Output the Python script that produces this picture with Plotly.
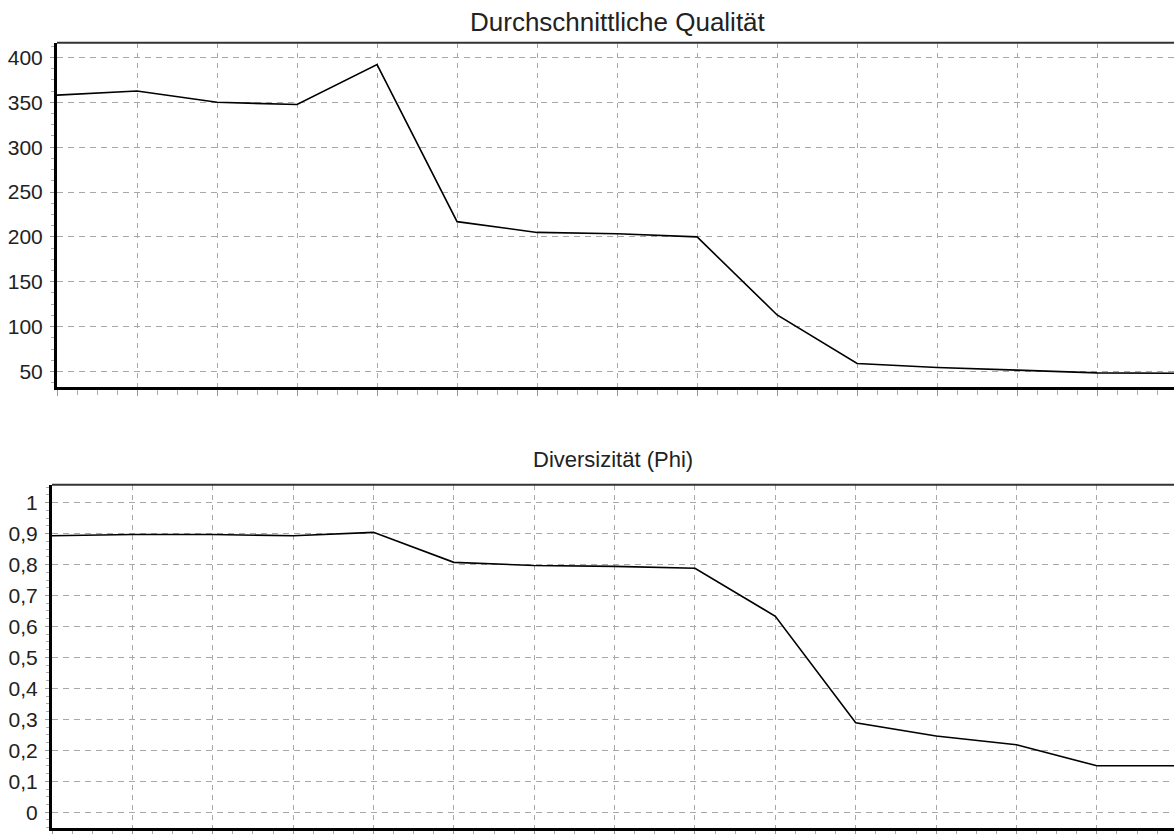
import plotly.graph_objects as go

# Data
generation = list(range(15))
qualitaet = [358, 362.5, 350, 347.5, 392, 217, 205, 203.5, 200, 113, 59, 54.5, 51.5, 48.5, 48]
diversitaet = [0.893, 0.897, 0.897, 0.893, 0.904, 0.807, 0.797, 0.794, 0.788, 0.633,
               0.289, 0.246, 0.218, 0.150, 0.150]
q_ticks = [50, 100, 150, 200, 250, 300, 350, 400]
d_ticks = [0, 0.1, 0.2, 0.3, 0.4, 0.5, 0.6, 0.7, 0.8, 0.9, 1]
titles = ["Durchschnittliche Qualität", "Diversizität (Phi)"]

W, H = 1174, 834
FONT = "Liberation Sans, Arial, sans-serif"
GRID = "#a8a8a8"

fig = go.Figure()
fig.add_trace(go.Scatter(x=generation, y=qualitaet, mode="lines",
                         line=dict(color="black", width=1.6), xaxis="x", yaxis="y",
                         showlegend=False, hoverinfo="x+y"))
fig.add_trace(go.Scatter(x=generation, y=diversitaet, mode="lines",
                         line=dict(color="black", width=1.6), xaxis="x2", yaxis="y2",
                         showlegend=False, hoverinfo="x+y"))

common_x = dict(showgrid=True, gridcolor=GRID, griddash="5px,5px", gridwidth=1,
                dtick=1, tick0=0, showticklabels=False, zeroline=False,
                showline=True, linecolor="black", linewidth=3,
                ticks="outside", ticklen=6, tickcolor="#999",
                minor=dict(dtick=0.25, ticks="outside", ticklen=5, tickcolor="#aaa", showgrid=False))
common_y = dict(showgrid=True, gridcolor=GRID, griddash="6px,5px", gridwidth=1,
                zeroline=False, showline=True, linecolor="black", linewidth=3,
                ticks="outside", ticklen=4, tickcolor="#999", ticklabelstandoff=3,
                tickfont=dict(family=FONT, size=21, color="#222"))

fig.update_layout(
    width=W, height=H,
    margin=dict(l=0, r=0, t=0, b=0),
    paper_bgcolor="white", plot_bgcolor="white",
    separators=",.",
    xaxis=dict(domain=[57 / W, 1], range=[0, 13.96], anchor="y", **common_x),
    yaxis=dict(domain=[1 - 389 / H, 1 - 43 / H], range=[32.6, 416.3], anchor="x",
               tickvals=q_ticks,
               minor=dict(dtick=12.5, tick0=0, ticks="outside", ticklen=3, tickcolor="#aaa", showgrid=False),
               **common_y),
    xaxis2=dict(domain=[52 / W, 1], range=[0, 13.96], anchor="y2", **common_x),
    yaxis2=dict(domain=[1 - 832 / H, 1 - 487 / H], range=[-0.051, 1.058], anchor="x2",
                tickvals=d_ticks, tickformat="~g",
                minor=dict(dtick=0.025, tick0=0, ticks="outside", ticklen=3, tickcolor="#aaa", showgrid=False),
                **common_y),
    shapes=[
        dict(type="line", xref="x domain", yref="y domain", x0=0, x1=1, y0=1, y1=1,
             line=dict(color="#333", width=2)),
        dict(type="line", xref="x2 domain", yref="y2 domain", x0=0, x1=1, y0=1, y1=1,
             line=dict(color="#333", width=2)),
    ],
    annotations=[
        dict(text=titles[0], xref="paper", yref="paper", x=618 / W, y=1 - 22 / H,
             xanchor="center", yanchor="middle", showarrow=False,
             font=dict(family=FONT, size=26, color="#222")),
        dict(text=titles[1], xref="paper", yref="paper", x=613 / W, y=1 - 462 / H,
             xanchor="center", yanchor="middle", showarrow=False,
             font=dict(family=FONT, size=22, color="#222")),
    ],
)

fig.write_html("out.html", config={"displayModeBar": False},
               post_script="document.body.style.margin='0';document.body.style.overflow='hidden';")
